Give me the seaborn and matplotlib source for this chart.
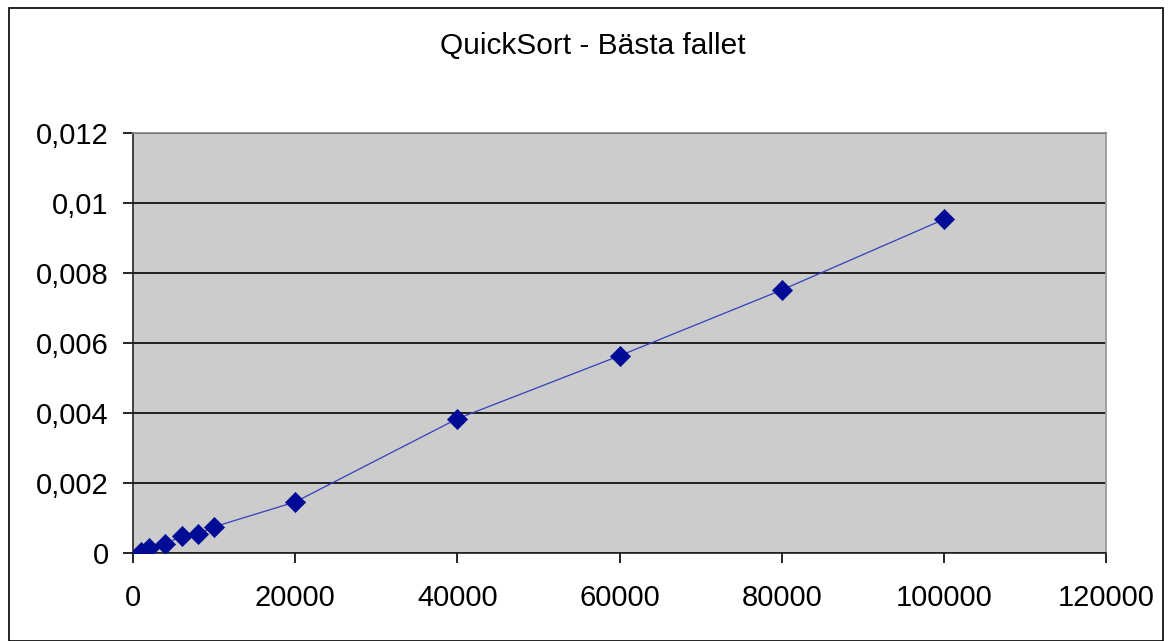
import numpy as np
import pandas as pd
import matplotlib
matplotlib.use('Agg')
import matplotlib.pyplot as plt
import seaborn as sns
from matplotlib.ticker import FuncFormatter, MultipleLocator
from matplotlib.patches import Rectangle

# Data
n_elements = [1000, 2000, 4000, 6000, 8000, 10000, 20000, 40000, 60000, 80000, 100000]
seconds = [0.00001, 0.00013, 0.00026, 0.00047, 0.00053, 0.00074, 0.00145,
           0.00383, 0.00563, 0.00751, 0.00953]
title = 'QuickSort - Bästa fallet'

df = pd.DataFrame({'n': n_elements, 'tid': seconds})

sns.set_theme(style='white')
plt.rcParams['font.family'] = ['Liberation Sans', 'DejaVu Sans']
plt.rcParams['text.color'] = 'black'
plt.rcParams['xtick.color'] = 'black'
plt.rcParams['ytick.color'] = 'black'

fig = plt.figure(figsize=(11.71, 6.41), dpi=100)
ax = fig.add_axes([133 / 1171, 88.3 / 641, 973 / 1171, 419.7 / 641])
ax.set_facecolor('#cccccc')

sns.lineplot(data=df, x='n', y='tid', ax=ax, color='#3040bc', linewidth=0.9, zorder=3)
sns.scatterplot(data=df, x='n', y='tid', ax=ax, marker='D', s=105, color='#000c96',
                edgecolor='#000c96', linewidth=0.5, zorder=4)

ax.set_xlim(0, 120000)
ax.set_ylim(0, 0.012)
ax.xaxis.set_major_locator(MultipleLocator(20000))
ax.yaxis.set_major_locator(MultipleLocator(0.002))
ax.xaxis.set_major_formatter(FuncFormatter(lambda v, p: f'{v:.0f}'))
ax.yaxis.set_major_formatter(FuncFormatter(lambda v, p: f'{round(v, 6):g}'.replace('.', ',')))

ax.grid(axis='y', color='black', linewidth=1.2)
ax.set_axisbelow(True)
for side in ['left', 'bottom']:
    ax.spines[side].set_color('#222222')
    ax.spines[side].set_linewidth(1.2)
ax.spines['top'].set_color('#888888')
ax.spines['right'].set_color('#999999')
ax.tick_params(axis='both', which='major', labelsize=21, length=7.5, width=1.2,
               color='black', direction='out', left=True, bottom=True)
ax.tick_params(axis='y', pad=10)
ax.tick_params(axis='x', pad=15)
ax.set_xlabel('')
ax.set_ylabel('')

fig.text(593 / 1171, 1 - 46 / 641, title, ha='center', va='center', fontsize=21.5)

fig.patches.append(Rectangle((9 / 1171, 0), 1154 / 1171, 1 - 8 / 641,
                             transform=fig.transFigure, fill=False,
                             edgecolor='black', linewidth=1.2))

plt.savefig('out.png', dpi=100)
plt.close()
